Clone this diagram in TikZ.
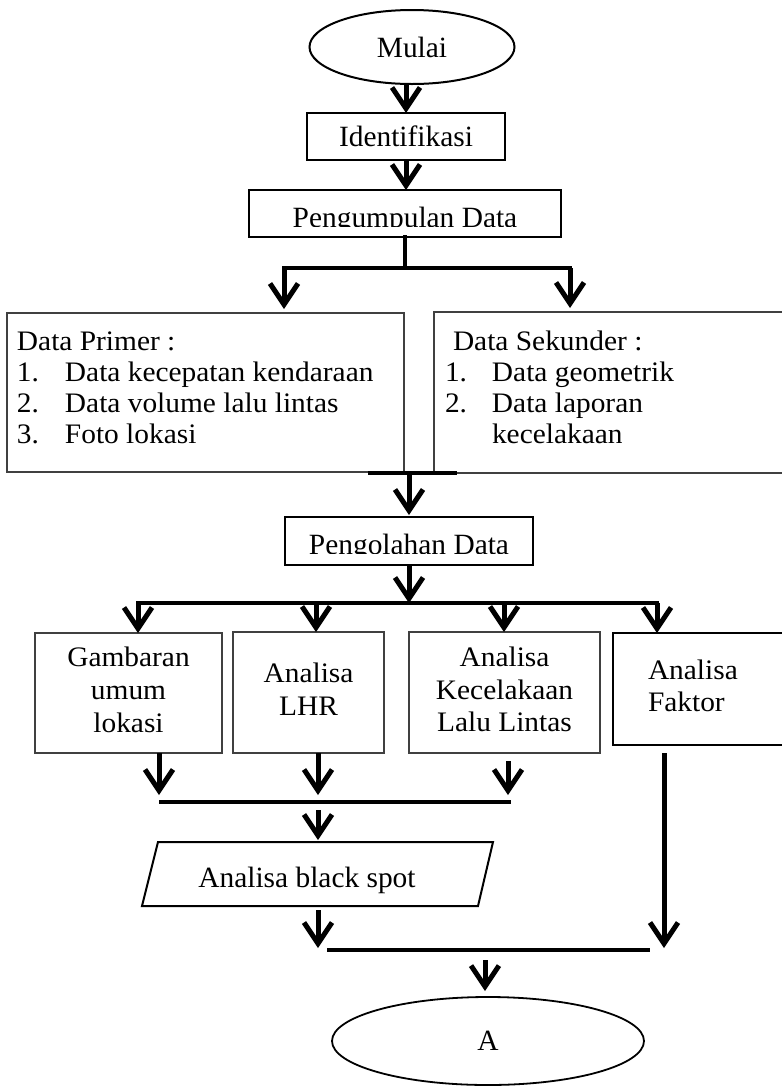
\documentclass[tikz,border=0pt]{standalone}
\usepackage{fontspec}
\setmainfont{Liberation Serif}
\usepackage{graphicx}
\usetikzlibrary{arrows.meta,shapes.geometric,calc}
\newcommand{\vsq}[1]{\scalebox{1}[0.96]{#1}}
\begin{document}
\begin{tikzpicture}[x=0.5pt,y=-0.5pt,
  font=\fontsize{14.7}{16.2}\selectfont,
  conn/.style={line width=2.3pt,line cap=rect},
  arr/.style={line width=2.5pt,-{Straight Barb[length=10.5pt,width=14pt]}},
  thickbox/.style={draw,line width=1pt,inner sep=0pt,outer sep=0pt},
  thinbox/.style={draw=black!75,line width=0.6pt,inner sep=0pt,outer sep=0pt,font=\fontsize{14.7}{17}\selectfont},
  lbl/.style={inner sep=0pt,outer sep=0pt}
]
\useasboundingbox (0,0) rectangle (782,1088);

% ---- top part
\node[ellipse,draw,line width=1pt,minimum width=102.5pt,minimum height=37pt,inner sep=0pt] (mulai) at (412,47) {Mulai};
\node[thickbox,minimum width=99pt,minimum height=23.5pt] (ident) at (406,136.5) {Identifikasi};
\node[thickbox,minimum width=156pt,minimum height=23.5pt] (kumpul) at (405,213.5) {};
\begin{scope}
  \clip (249,190) rectangle (561,226);
  \node[lbl,anchor=base] (tkumpul) at (405,227) {Pengumpulan Data};
\end{scope}

\draw[arr] (mulai.south -| ident.north) -- (ident.north);
\draw[arr] (ident.south) -- (ident.south |- kumpul.north);

% ---- data boxes
\node[thinbox,minimum width=198.5pt,minimum height=79.5pt] (primer) at (205.5,392.5) {};
\node[lbl,anchor=base west] (tprimer) at (17,350) {\vsq{\begin{tabular}[t]{@{}p{24pt}@{}l@{}}\multicolumn{2}{@{}l@{}}{Data Primer :}\\1.&Data kecepatan kendaraan\\2.&Data volume lalu lintas\\3.&Foto lokasi\end{tabular}}};
\node[thinbox,minimum width=183pt,minimum height=80.5pt] (sekunder) at (617,392.5) {};
\node[lbl,anchor=base west] (tsek) at (445,350) {\vsq{\begin{tabular}[t]{@{}p{23.5pt}@{}l@{}}\multicolumn{2}{@{}l@{}}{\hspace{4pt}Data Sekunder :}\\1.&Data geometrik\\2.&Data laporan\\&kecelakaan\end{tabular}}};

\coordinate (bl) at (284,268);
\coordinate (br) at (570,268);
\draw[conn] (kumpul.south) -- (kumpul.south |- bl);
\draw[conn] (bl) -- (br);
\draw[arr,shorten >=2pt] (bl) -- (bl |- primer.north);
\draw[arr,shorten >=2pt] (br) -- (br |- sekunder.north);

% ---- pengolahan
\node[thickbox,minimum width=124pt,minimum height=24pt] (olah) at (409,541) {};
\begin{scope}
  \clip (285,517) rectangle (533,553);
  \node[lbl,anchor=base] (tolah) at (409,554) {Pengolahan Data};
\end{scope}
\coordinate (bar1) at (370,473);
\coordinate (bar2) at (455,473);
\coordinate (bm) at (409,473);
\draw[conn] (bar1) -- (bar2);
\draw[arr,shorten >=1pt] (bm) -- (bm |- olah.north);

% ---- analysis boxes
\node[thinbox,minimum width=93.5pt,minimum height=60pt] (gamb) at (128.5,693) {\vsq{\begin{tabular}{@{}c@{}}Gambaran\\umum\\lokasi\end{tabular}}};
\node[thinbox,minimum width=75.5pt,minimum height=60.5pt] (lhr) at (308.5,692.5) {\vsq{\begin{tabular}{@{}c@{}}Analisa\\LHR\end{tabular}}};
\node[thinbox,minimum width=95.5pt,minimum height=60.5pt] (kec) at (504.5,692.5) {\vsq{\begin{tabular}{@{}c@{}}Analisa\\Kecelakaan\\Lalu Lintas\end{tabular}}};
\node[thickbox,minimum width=93.5pt,minimum height=56pt] (fak) at (706.5,689) {};
\node[lbl,anchor=west,font=\fontsize{14.7}{17}\selectfont] (tfak) at (648,689) {\vsq{\begin{tabular}{@{}l@{}}Analisa\\Faktor\end{tabular}}};

\coordinate (h1) at (409,603);
\coordinate (c1) at (138,603);
\coordinate (c2) at (316,603);
\coordinate (c3) at (504,603);
\coordinate (c4) at (657,603);
\draw[arr] (olah.south) -- (h1);
\draw[conn] (c1) -- (c4);
\draw[arr] (c1) -- (c1 |- gamb.north);
\draw[arr] (c2) -- (c2 |- lhr.north);
\draw[arr] (c3) -- (c3 |- kec.north);
\draw[arr] (c4) -- (c4 |- fak.north);

% ---- black spot
\node[lbl,minimum width=175.5pt,minimum height=32pt] (bs) at (317.5,874) {};
\draw[line width=1pt] (bs.south west) -- ($(bs.north west)+(8pt,0)$) -- (bs.north east) -- ($(bs.south east)+(-7.5pt,0)$) -- cycle;
\node[lbl,anchor=base] (tbs) at (307,887) {Analisa black spot};

\coordinate (d1) at (159,802);
\coordinate (d2) at (318,802);
\coordinate (d3) at (508,802);
\coordinate (d1s) at (161,802);
\coordinate (d3s) at (509,802);
\draw[arr,shorten >=3.5pt] (gamb.south -| d1) -- (d1);
\draw[arr,shorten >=3.5pt] (lhr.south -| d2) -- (d2);
\draw[arr,shorten >=3.5pt,shorten <=4pt] (kec.south -| d3) -- (d3);
\draw[conn] (d1s) -- (d3s);
\draw[arr,shorten <=4pt,shorten >=1pt] (d2) -- (d2 |- bs.north);

% ---- bottom
\node[ellipse,draw,line width=0.9pt,minimum width=156pt,minimum height=44pt,inner sep=0pt] (A) at (488,1041) {A};
\coordinate (f1) at (664,950);
\coordinate (g1) at (318,950);
\coordinate (g2) at (329,950);
\coordinate (g3) at (648,950);
\coordinate (a1) at (485,960);
\draw[arr,shorten <=4pt,shorten >=1pt] (fak.south -| f1) -- (f1);
\draw[arr,shorten <=2pt,shorten >=1pt] (bs.south -| g1) -- (g1);
\draw[conn] (g2) -- (g3);
\draw[arr,shorten >=2.5pt] (a1) -- (a1 |- A.north);
\end{tikzpicture}
\end{document}
